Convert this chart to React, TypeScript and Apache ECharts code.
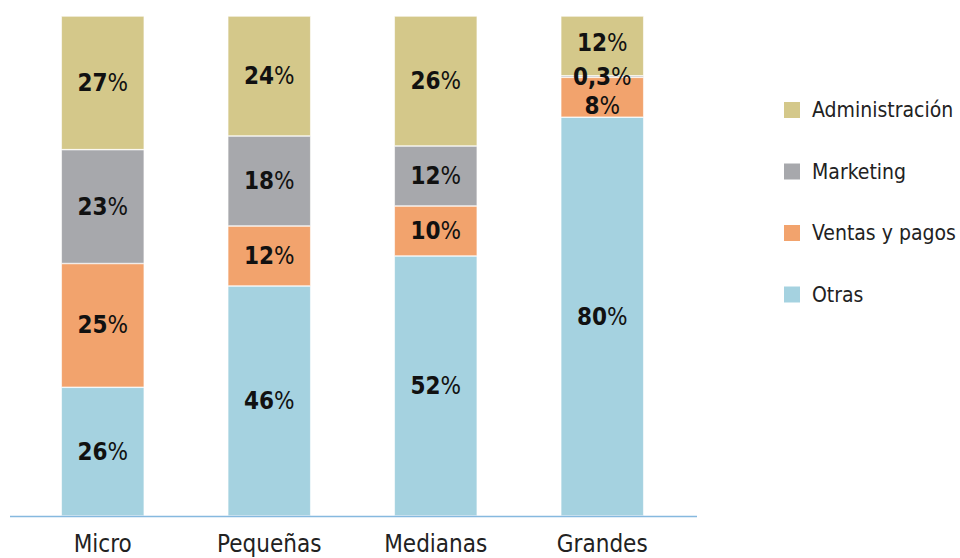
import React, { useEffect, useRef } from "react";
import * as echarts from "echarts";

const categories = ["Micro", "Pequeñas", "Medianas", "Grandes"];
const otras = [26, 46, 52, 80];
const ventas = [25, 12, 10, 8];
const marketing = [23, 18, 12, 0.3];
const administracion = [27, 24, 26, 12];

const FONT = "'Liberation Sans Narrow', 'DejaVu Sans Condensed', 'Roboto', sans-serif";

export default function App() {
  const ref = useRef<HTMLDivElement>(null);
  useEffect(() => {
    if (!ref.current) return;
    const chart = echarts.init(ref.current, null, { renderer: "svg" });
    const totals = categories.map(
      (_, i) => otras[i] + ventas[i] + marketing[i] + administracion[i]
    );
    const fmt = (v: number) => String(v).replace(".", ",");
    const mk = (
      name: string,
      vals: number[],
      color: string,
      offsets: Record<number, [number, number]> = {}
    ) => ({
      name,
      type: "bar",
      stack: "total",
      barWidth: 83,
      itemStyle: { color, borderColor: "#ffffff", borderWidth: 0.6 },
      label: {
        show: true,
        position: "inside",
        fontFamily: FONT,
        formatter: (p: any) => `{n|${fmt(vals[p.dataIndex])}}{p|%}`,
        rich: {
          n: { fontFamily: FONT, fontSize: 24, fontWeight: "bold", color: "#111" },
          p: { fontFamily: FONT, fontSize: 24, fontWeight: "normal", color: "#111" },
        },
      },
      data: vals.map((v, i) => {
        const d: any = { value: (v / totals[i]) * 100 };
        if (offsets[i]) d.label = { offset: offsets[i] };
        return d;
      }),
    });
    chart.setOption({
      animation: false,
      grid: { left: 19.5, right: 274.5, top: 16, bottom: 42, containLabel: false },
      legend: {
        orient: "vertical",
        left: 777,
        top: 92,
        icon: "rect",
        itemWidth: 18,
        itemHeight: 18,
        itemGap: 35.5,
        data: ["Administración", "Marketing", "Ventas y pagos", "Otras"],
        textStyle: {
          fontFamily: FONT,
          fontSize: 21,
          lineHeight: 26,
          color: "#222",
          padding: [0, 0, 0, 6],
        },
      },
      xAxis: {
        type: "category",
        data: categories,
        axisLine: { show: false },
        axisTick: { show: false },
        axisLabel: {
          fontFamily: FONT,
          fontSize: 24,
          color: "#222",
          margin: 16,
        },
      },
      yAxis: {
        type: "value",
        min: 0,
        max: 100,
        show: false,
        splitLine: { show: false },
      },
      graphic: [
        {
          type: "line",
          shape: { x1: 10, y1: 516.5, x2: 697, y2: 516.5 },
          style: { stroke: "#86B9DF", lineWidth: 1.5 },
          z: 10,
        },
      ],
      series: [
        mk("Otras", otras, "#A5D2E0"),
        mk("Ventas y pagos", ventas, "#F2A36D", { 3: [0, 9] }),
        mk("Marketing", marketing, "#A7A8AC"),
        mk("Administración", administracion, "#D4C88A", { 3: [0, -3] }),
      ],
    });
    return () => chart.dispose();
  }, []);
  return <div ref={ref} style={{ width: 960, height: 558, position: "absolute", left: 0, top: 0 }} />;
}
